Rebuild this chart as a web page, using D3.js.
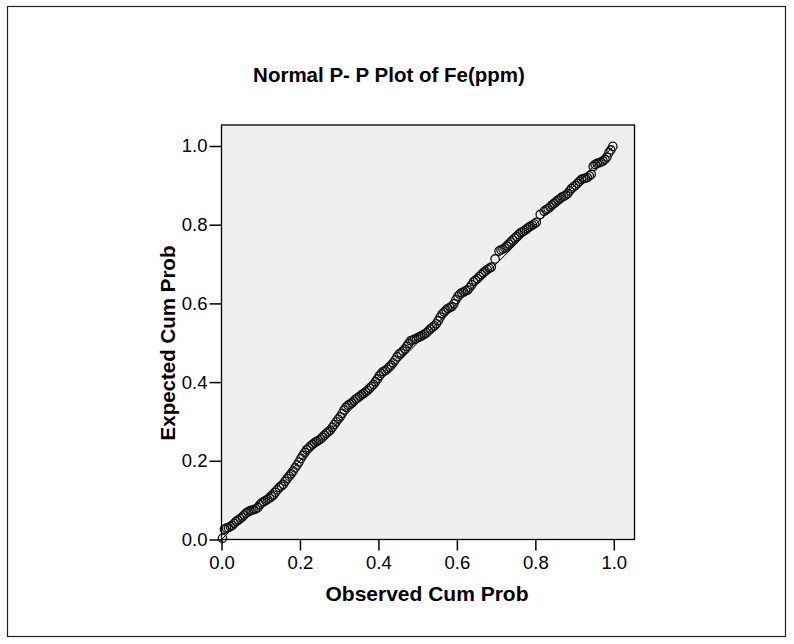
<!DOCTYPE html>
<html>
<head>
<meta charset="utf-8">
<script src="https://cdn.jsdelivr.net/npm/d3@7"></script>
<style>
  html, body { margin: 0; padding: 0; background: #ffffff; }
  svg { display: block; }
  text { font-family: "Liberation Sans", Arial, sans-serif; fill: #000; }
</style>
</head>
<body>
<svg id="chart" width="794" height="644"></svg>
<script>
// ---- Data ----
const chartTitle = "Normal P- P Plot of Fe(ppm)";
const xAxisTitle = "Observed Cum Prob";
const yAxisTitle = "Expected Cum Prob";
const xTickValues = [0.0, 0.2, 0.4, 0.6, 0.8, 1.0];
const yTickValues = [0.0, 0.2, 0.4, 0.6, 0.8, 1.0];

const observedCumProb = [
  0.0025, 0.0075, 0.0125, 0.0175, 0.0225, 0.0275, 0.0325, 0.0375, 0.0425, 0.0475,
  0.0525, 0.0575, 0.0625, 0.0675, 0.0725, 0.0775, 0.0825, 0.0875, 0.0925, 0.0975,
  0.1025, 0.1075, 0.1125, 0.1175, 0.1225, 0.1275, 0.1325, 0.1375, 0.1425, 0.1475,
  0.1525, 0.1575, 0.1625, 0.1675, 0.1725, 0.1775, 0.1825, 0.1875, 0.1925, 0.1975,
  0.2025, 0.2075, 0.2125, 0.2175, 0.2225, 0.2275, 0.2325, 0.2375, 0.2425, 0.2475,
  0.2525, 0.2575, 0.2625, 0.2675, 0.2725, 0.2775, 0.2825, 0.2875, 0.2925, 0.2975,
  0.3025, 0.3075, 0.3125, 0.3175, 0.3225, 0.3275, 0.3325, 0.3375, 0.3425, 0.3475,
  0.3525, 0.3575, 0.3625, 0.3675, 0.3725, 0.3775, 0.3825, 0.3875, 0.3925, 0.3975,
  0.4025, 0.4075, 0.4125, 0.4175, 0.4225, 0.4275, 0.4325, 0.4375, 0.4425, 0.4475,
  0.4525, 0.4575, 0.4625, 0.4675, 0.4725, 0.4775, 0.4825, 0.4875, 0.4925, 0.4975,
  0.5025, 0.5075, 0.5125, 0.5175, 0.5225, 0.5275, 0.5325, 0.5375, 0.5425, 0.5475,
  0.5525, 0.5575, 0.5625, 0.5675, 0.5725, 0.5775, 0.5825, 0.5875, 0.5925, 0.5975,
  0.6025, 0.6075, 0.6125, 0.6175, 0.6225, 0.6275, 0.6325, 0.6375, 0.6425, 0.6475,
  0.6525, 0.6575, 0.6625, 0.6675, 0.6725, 0.6775, 0.6825, 0.6875, 0.6975, 0.7075,
  0.7125, 0.7175, 0.7225, 0.7275, 0.7325, 0.7375, 0.7425, 0.7475, 0.7525, 0.7575,
  0.7625, 0.7675, 0.7725, 0.7775, 0.7825, 0.7875, 0.7925, 0.7975, 0.8025, 0.8125,
  0.8225, 0.8275, 0.8325, 0.8375, 0.8425, 0.8475, 0.8525, 0.8575, 0.8625, 0.8675,
  0.8725, 0.8775, 0.8825, 0.8875, 0.8925, 0.8975, 0.9025, 0.9075, 0.9125, 0.9175,
  0.9225, 0.9275, 0.9325, 0.9375, 0.9425, 0.9475, 0.9525, 0.9575, 0.9625, 0.9675,
  0.9725, 0.9775, 0.9825, 0.9875, 0.9925, 0.9975
];
const expectedCumProb = [
  0.003, 0.026, 0.029, 0.030, 0.033, 0.036, 0.041, 0.046, 0.049, 0.053,
  0.057, 0.062, 0.067, 0.070, 0.073, 0.075, 0.076, 0.078, 0.081, 0.088,
  0.093, 0.096, 0.099, 0.102, 0.105, 0.109, 0.113, 0.120, 0.126, 0.132,
  0.136, 0.140, 0.148, 0.155, 0.161, 0.167, 0.174, 0.182, 0.189, 0.197,
  0.206, 0.214, 0.221, 0.228, 0.233, 0.238, 0.242, 0.246, 0.249, 0.252,
  0.255, 0.260, 0.265, 0.270, 0.274, 0.278, 0.285, 0.292, 0.299, 0.306,
  0.312, 0.320, 0.329, 0.336, 0.341, 0.344, 0.347, 0.352, 0.357, 0.360,
  0.364, 0.368, 0.371, 0.375, 0.379, 0.384, 0.389, 0.394, 0.401, 0.408,
  0.416, 0.422, 0.427, 0.429, 0.433, 0.438, 0.443, 0.449, 0.456, 0.464,
  0.471, 0.474, 0.479, 0.484, 0.491, 0.498, 0.505, 0.507, 0.509, 0.511,
  0.514, 0.516, 0.519, 0.522, 0.525, 0.530, 0.535, 0.539, 0.543, 0.548,
  0.556, 0.565, 0.573, 0.578, 0.583, 0.587, 0.590, 0.592, 0.599, 0.609,
  0.618, 0.623, 0.627, 0.629, 0.632, 0.634, 0.640, 0.647, 0.655, 0.659,
  0.663, 0.668, 0.673, 0.678, 0.682, 0.686, 0.689, 0.692, 0.713, 0.733,
  0.736, 0.738, 0.741, 0.746, 0.751, 0.756, 0.761, 0.766, 0.770, 0.775,
  0.780, 0.782, 0.785, 0.789, 0.793, 0.796, 0.799, 0.802, 0.806, 0.826,
  0.834, 0.838, 0.841, 0.845, 0.850, 0.854, 0.858, 0.862, 0.866, 0.870,
  0.872, 0.875, 0.879, 0.886, 0.892, 0.896, 0.900, 0.905, 0.910, 0.915,
  0.917, 0.918, 0.920, 0.924, 0.928, 0.948, 0.953, 0.956, 0.957, 0.959,
  0.962, 0.966, 0.972, 0.983, 0.990, 0.999
];
const referenceLine = [[0, 0], [1, 1]];

// ---- Drawing ----
const svg = d3.select("#chart");

// outer frame
svg.append("rect")
  .attr("x", 7.5).attr("y", 6.5)
  .attr("width", 778).attr("height", 630)
  .attr("fill", "none").attr("stroke", "#222").attr("stroke-width", 1.2);

const frame = { left: 221.5, top: 125, right: 634.5, bottom: 539.5 };

const x = d3.scaleLinear().domain([0, 1]).range([221.5, 613.8]);
const y = d3.scaleLinear().domain([0, 1]).range([539.5, 146]);

// plot background
svg.append("rect")
  .attr("x", frame.left).attr("y", frame.top)
  .attr("width", frame.right - frame.left)
  .attr("height", frame.bottom - frame.top)
  .attr("fill", "#efefef").attr("stroke", "#000").attr("stroke-width", 1.3);

// reference line
svg.append("line")
  .attr("x1", x(referenceLine[0][0])).attr("y1", y(referenceLine[0][1]))
  .attr("x2", x(referenceLine[1][0])).attr("y2", y(referenceLine[1][1]))
  .attr("stroke", "#000").attr("stroke-width", 1);

// points
const pts = observedCumProb.map((o, i) => ({ o, e: expectedCumProb[i] }));
svg.append("g").selectAll("circle").data(pts).join("circle")
  .attr("cx", d => x(d.o)).attr("cy", d => y(d.e))
  .attr("r", 4.2)
  .attr("fill", "none").attr("stroke", "#111").attr("stroke-width", 1.3);

// axes
const xAxis = d3.axisBottom(x).tickValues(xTickValues)
  .tickFormat(d3.format(".1f")).tickSize(11).tickPadding(5).tickSizeOuter(0);
const yAxis = d3.axisLeft(y).tickValues(yTickValues)
  .tickFormat(d3.format(".1f")).tickSize(12).tickPadding(2).tickSizeOuter(0);

const gx = svg.append("g").attr("transform", `translate(0,${frame.bottom})`).call(xAxis);
gx.select(".domain").remove();
gx.selectAll("line").attr("stroke", "#000").attr("stroke-width", 1.5);
gx.selectAll("text").attr("font-size", 18.5)
  .attr("font-family", "'Liberation Sans', Arial, sans-serif").attr("fill", "#000");

const gy = svg.append("g").attr("transform", `translate(${frame.left},0)`).call(yAxis);
gy.select(".domain").remove();
gy.selectAll("line").attr("stroke", "#000").attr("stroke-width", 1.5);
gy.selectAll("text").attr("font-size", 18.5)
  .attr("font-family", "'Liberation Sans', Arial, sans-serif").attr("fill", "#000");

// titles
svg.append("text")
  .attr("x", 389).attr("y", 82)
  .attr("text-anchor", "middle")
  .attr("font-size", 20.5).attr("font-weight", "bold")
  .text(chartTitle);

svg.append("text")
  .attr("x", 427).attr("y", 600.5)
  .attr("text-anchor", "middle")
  .attr("font-size", 21).attr("font-weight", "bold")
  .text(xAxisTitle);

svg.append("text")
  .attr("transform", "translate(175,343) rotate(-90)")
  .attr("text-anchor", "middle")
  .attr("font-size", 20.5).attr("font-weight", "bold")
  .text(yAxisTitle);
</script>
</body>
</html>
